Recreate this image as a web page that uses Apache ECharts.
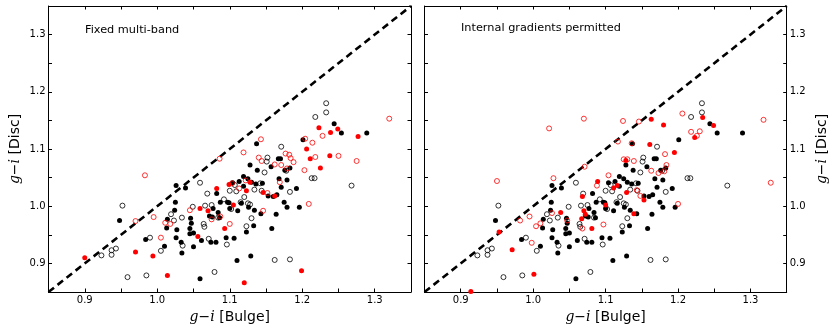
<!DOCTYPE html>
<html><head><meta charset="utf-8">
<script src="https://cdn.jsdelivr.net/npm/echarts@6/dist/echarts.min.js"></script>
<style>html,body{margin:0;padding:0;background:#fff}#c{width:831px;height:330px}</style>
</head><body><div id="c"></div>
<script>
// ---- data ----
const axisMin = 0.85, axisMax = 1.35, axisStep = 0.05;
const diagLine = [[0.85, 0.85], [1.35, 1.35]];
const panelTitles = ['Fixed multi-band', 'Internal gradients permitted'];

// black points (same in both panels)
const blackFilled = [
[0.948,0.975],[0.984,0.942],[1.010,0.930],[1.013,0.962],[1.014,0.977],[1.024,0.993],[1.025,1.007],[1.026,1.036],
[1.039,1.032],[1.027,0.959],[1.026,0.945],[1.033,0.937],[1.034,0.918],[1.045,0.952],[1.046,0.979],[1.047,0.970],
[1.045,0.961],[1.050,0.953],[1.050,0.929],[1.061,0.940],[1.059,0.873],[1.072,0.983],[1.074,0.937],[1.077,0.996],
[1.076,0.981],[1.081,0.937],[1.082,1.022],[1.084,0.989],[1.086,0.980],[1.087,1.007],[1.095,0.945],[1.099,1.006],
[1.100,0.996],[1.106,0.944],[1.110,0.905],[1.111,0.992],[1.113,1.043],[1.116,1.005],[1.119,1.035],[1.119,1.052],
[1.123,0.955],[1.125,1.048],[1.126,0.998],[1.128,1.072],[1.129,0.913],[1.130,1.042],[1.133,0.966],[1.134,0.993],
[1.136,1.039],[1.137,1.109],[1.138,1.063],[1.143,0.987],[1.145,1.040],[1.153,1.018],[1.157,1.069],[1.158,0.961],
[1.160,1.017],[1.164,0.986],[1.165,1.020],[1.167,1.083],[1.170,1.083],[1.168,1.048],[1.171,1.033],[1.175,1.007],
[1.176,1.063],[1.179,1.046],[1.179,0.998],[1.183,1.067],[1.192,1.031],[1.196,0.998],[1.201,1.116],[1.244,1.144],
[1.254,1.128],[1.289,1.128],[1.104,1.041],[1.097,1.007]
];
const blackOpen = [
[0.952,1.001],[0.923,0.914],[0.937,0.915],[0.937,0.923],[0.943,0.926],[0.959,0.876],[0.990,0.945],[0.985,0.879],
[1.005,0.922],[1.019,0.986],[1.023,0.975],[1.034,0.980],[1.035,0.931],[1.049,0.999],[1.059,1.041],[1.064,0.969],
[1.065,0.964],[1.066,1.001],[1.069,1.022],[1.071,0.943],[1.075,1.002],[1.079,0.885],[1.084,0.980],[1.092,1.012],
[1.096,0.933],[1.100,1.027],[1.102,0.995],[1.107,1.037],[1.109,1.026],[1.115,1.007],[1.120,1.016],[1.123,0.965],
[1.125,1.005],[1.128,1.003],[1.130,0.979],[1.134,1.029],[1.142,1.040],[1.144,1.027],[1.148,1.059],[1.151,1.078],
[1.152,1.085],[1.162,0.906],[1.171,1.104],[1.178,1.062],[1.183,1.025],[1.183,0.907],[1.213,1.049],[1.217,1.049],
[1.218,1.156],[1.233,1.180],[1.233,1.164],[1.268,1.036]
];

// red points, panel 1: fixed multi-band
const redFilledFixed = [
[0.900,0.910],[0.970,0.920],[0.994,0.913],[1.014,0.879],[1.056,0.947],[1.059,0.996],[1.070,0.992],[1.082,1.031],
[1.093,0.961],[1.099,1.038],[1.105,1.002],[1.120,0.866],[1.123,1.027],[1.128,1.042],[1.146,1.024],[1.162,1.018],
[1.199,0.887],[1.206,1.100],[1.211,1.083],[1.223,1.137],[1.225,1.067],[1.239,1.129],[1.238,1.088],[1.249,1.135],
[1.277,1.122]
];
const redOpenFixed = [
[0.983,1.054],[0.970,0.974],[0.995,0.981],[1.005,0.945],[1.011,0.971],[1.018,0.969],[1.045,0.993],[1.075,0.977],
[1.086,1.083],[1.087,0.982],[1.100,0.969],[1.103,1.040],[1.113,1.031],[1.119,1.094],[1.122,1.045],[1.143,1.117],
[1.140,1.085],[1.144,1.079],[1.146,0.992],[1.152,1.023],[1.162,1.073],[1.169,1.042],[1.171,1.072],[1.177,1.092],
[1.179,1.066],[1.182,1.090],[1.184,1.084],[1.188,1.077],[1.203,1.063],[1.204,1.118],[1.209,1.004],[1.214,1.111],
[1.218,1.086],[1.228,1.123],[1.250,1.088],[1.275,1.079],[1.320,1.153]
];

// red points, panel 2: internal gradients permitted
const redFilledGrad = [
[0.914,0.851],[0.953,0.955],[0.971,0.924],[1.001,0.881],[1.038,0.989],[1.067,0.978],[1.070,0.992],[1.072,0.986],
[1.068,1.017],[1.081,0.961],[1.089,1.043],[1.100,1.002],[1.111,1.032],[1.116,1.036],[1.129,1.024],[1.128,1.080],
[1.139,0.987],[1.153,1.011],[1.161,1.108],[1.163,1.152],[1.180,1.142],[1.195,1.094],[1.223,1.120],[1.234,1.155],
[1.249,1.141]
];
const redOpenGrad = [
[0.950,1.044],[0.982,0.975],[0.995,0.982],[0.998,0.936],[1.004,0.965],[1.010,0.970],[1.022,1.136],[1.026,0.988],
[1.028,1.049],[1.047,0.975],[1.068,0.961],[1.070,1.153],[1.071,1.069],[1.088,1.036],[1.097,0.968],[1.104,1.054],
[1.117,1.113],[1.124,1.149],[1.125,1.082],[1.130,1.082],[1.136,1.110],[1.139,1.079],[1.143,1.028],[1.146,1.148],
[1.148,1.018],[1.163,1.062],[1.173,1.058],[1.181,1.061],[1.184,1.072],[1.182,1.091],[1.200,1.004],[1.206,1.162],
[1.218,1.130],[1.226,1.123],[1.230,1.131],[1.318,1.151],[1.328,1.041]
];

// ---- chart ----
const FONT = 'DejaVu Sans';
const isMajor = v => Math.abs(v * 10 - Math.round(v * 10)) < 1e-6;
const nameStyle = {
  fontFamily: FONT, fontSize: 14, color: '#000',
  rich: { i: { fontFamily: 'DejaVu Serif', fontStyle: 'italic', fontSize: 14, color: '#000' } }
};
function mkAxis(gridIndex, pos, showLabel, name, gap) {
  return {
    type: 'value', gridIndex, position: pos, min: axisMin, max: axisMax, interval: axisStep,
    axisLine: { show: true, onZero: false, lineStyle: { color: '#000', width: 1 } },
    axisTick: { show: true, inside: true, length: 3.5, lineStyle: { color: '#000', width: 1 } },
    axisLabel: { show: showLabel, formatter: v => isMajor(v) ? v.toFixed(1) : '', color: '#000',
      fontFamily: FONT, fontSize: 10, margin: 3 },
    splitLine: { show: false },
    name: name || '', nameLocation: 'middle', nameGap: gap || 0, nameRotate: (pos === 'left' || pos === 'right') ? 90 : 0,
    nameTextStyle: nameStyle
  };
}
const xName = '{i|g}−{i|i} [Bulge]';
const yName = '{i|g}−{i|i} [Disc]';

const xAxis = [
  mkAxis(0, 'bottom', true, xName, 14), mkAxis(0, 'top', false),
  mkAxis(1, 'bottom', true, xName, 14), mkAxis(1, 'top', false)
];
const yAxis = [
  mkAxis(0, 'left', true, yName, 26), mkAxis(0, 'right', false),
  mkAxis(1, 'left', false), mkAxis(1, 'right', true, yName, 29)
];

function panelSeries(xi, yi, redFilled, redOpen) {
  const base = { type: 'scatter', xAxisIndex: xi, yAxisIndex: yi, silent: true, animation: false, large: false };
  return [
    { type: 'line', xAxisIndex: xi, yAxisIndex: yi, data: diagLine, symbol: 'none', silent: true, animation: false,
      lineStyle: { color: '#000', width: 2.6, type: [7, 4.5], opacity: 1 }, z: 1 },
    Object.assign({}, base, { data: blackOpen, symbol: 'circle', symbolSize: 5,
      itemStyle: { color: 'rgba(0,0,0,0)', borderColor: '#000', borderWidth: 0.8, opacity: 1 }, z: 2 }),
    Object.assign({}, base, { data: blackFilled, symbol: 'circle', symbolSize: 5,
      itemStyle: { color: '#000', opacity: 1 }, z: 2 }),
    Object.assign({}, base, { data: redOpen, symbol: 'circle', symbolSize: 5,
      itemStyle: { color: 'rgba(0,0,0,0)', borderColor: '#ff0000', borderWidth: 0.8, opacity: 1 }, z: 3 }),
    Object.assign({}, base, { data: redFilled, symbol: 'circle', symbolSize: 5,
      itemStyle: { color: '#ff0000', opacity: 1 }, z: 3 })
  ];
}

const chart = echarts.init(document.getElementById('c'), null, { renderer: 'canvas' });
chart.setOption({
  animation: false,
  backgroundColor: '#fff',
  title: [
    { text: panelTitles[0], left: 85, top: 25, padding: 0,
      textStyle: { fontFamily: FONT, fontSize: 11.3, fontWeight: 'normal', color: '#000' } },
    { text: panelTitles[1], left: 461, top: 23, padding: 0,
      textStyle: { fontFamily: FONT, fontSize: 11.3, fontWeight: 'normal', color: '#000' } }
  ],
  grid: [
    { left: 48.5, top: 6, width: 362.5, height: 286, containLabel: false },
    { left: 424.5, top: 6, width: 362.2, height: 286, containLabel: false }
  ],
  xAxis, yAxis,
  series: [].concat(
    panelSeries(0, 0, redFilledFixed, redOpenFixed),
    panelSeries(2, 3, redFilledGrad, redOpenGrad)
  )
});
</script></body></html>
